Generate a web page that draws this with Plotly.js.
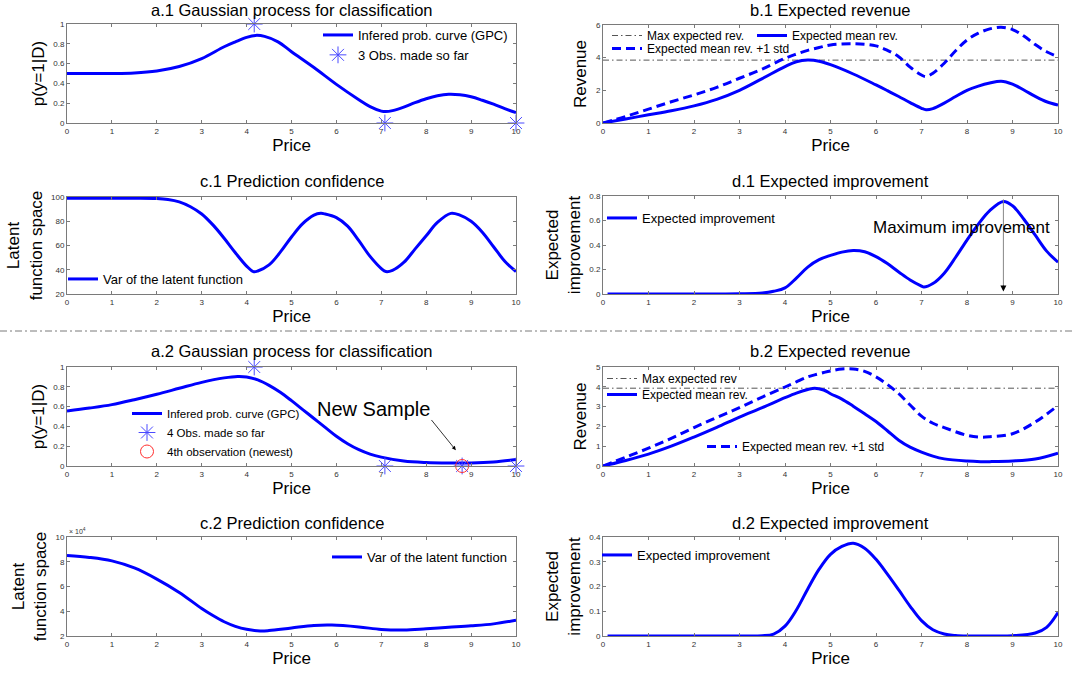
<!DOCTYPE html>
<html>
<head>
<meta charset="utf-8">
<script src="https://cdn.plot.ly/plotly-3.0.1.min.js"></script>
<style>html,body{margin:0;padding:0;background:#fff;}#chart{width:1073px;height:673px;}</style>
</head>
<body>
<div id="chart"></div>
<script>
// ---------- data ----------
// a.1 Gaussian process for classification (3 observations)
const priceA1 = [0, 0.5, 1, 1.5, 2, 2.5, 3, 3.5, 3.75, 4, 4.2, 4.4, 4.7, 5, 5.5, 6, 6.5, 6.75, 7, 7.1, 7.25, 7.5, 7.75, 8, 8.25, 8.5, 8.75, 9, 9.25, 9.5, 9.75, 10];
const probA1  = [0.5, 0.5, 0.5, 0.505, 0.525, 0.57, 0.65, 0.77, 0.82, 0.865, 0.885, 0.875, 0.82, 0.72, 0.56, 0.39, 0.235, 0.165, 0.12, 0.115, 0.125, 0.16, 0.205, 0.245, 0.275, 0.29, 0.285, 0.265, 0.23, 0.19, 0.145, 0.105];
const obsPriceA1 = [4.17, 7.08, 10];
const obsLabelA1 = [1, 0, 0];

// b.1 Expected revenue
const priceB1   = [0, 0.5, 1, 1.5, 2, 2.5, 3, 3.5, 4, 4.25, 4.5, 4.75, 5, 5.5, 6, 6.25, 6.5, 6.75, 7, 7.1, 7.25, 7.5, 7.75, 8, 8.25, 8.5, 8.75, 9, 9.25, 9.5, 9.75, 10];
const meanRevB1 = [0, 0.25, 0.5, 0.75, 1.05, 1.45, 2.0, 2.72, 3.45, 3.75, 3.85, 3.78, 3.57, 3.0, 2.33, 1.98, 1.62, 1.25, 0.9, 0.81, 0.88, 1.22, 1.62, 2.0, 2.26, 2.45, 2.56, 2.38, 2.02, 1.63, 1.3, 1.1];
const stdRevB1  = [0, 0.4, 0.85, 1.3, 1.72, 2.18, 2.74, 3.3, 3.96, 4.22, 4.45, 4.62, 4.78, 4.85, 4.72, 4.45, 4.06, 3.42, 2.94, 2.84, 3.05, 3.66, 4.42, 5.08, 5.5, 5.76, 5.86, 5.72, 5.32, 4.8, 4.36, 4.06];

// c.1 Prediction confidence
const priceC1 = [0, 0.5, 1, 1.5, 2, 2.25, 2.5, 2.75, 3, 3.25, 3.5, 3.75, 4, 4.15, 4.25, 4.5, 4.75, 5, 5.25, 5.5, 5.65, 5.75, 6, 6.25, 6.5, 6.75, 7, 7.1, 7.25, 7.5, 7.75, 8, 8.25, 8.55, 8.75, 9, 9.25, 9.5, 9.75, 10];
const varC1   = [99, 99, 99, 99, 98.8, 98, 96, 92, 86, 77, 66, 54, 43, 38.5, 39, 44, 54.5, 67, 78, 85, 86.5, 86, 83, 76, 64, 51, 41, 38.5, 39.5, 46, 57, 68, 79, 86.5, 85, 80, 71, 59, 47, 38.5];

// d.1 Expected improvement
const priceD1 = [0.1, 1, 2, 3, 3.5, 3.75, 4, 4.25, 4.5, 4.75, 5, 5.25, 5.5, 5.75, 6, 6.25, 6.5, 6.75, 7, 7.05, 7.25, 7.5, 7.75, 8, 8.25, 8.5, 8.8, 9, 9.25, 9.5, 9.75, 10];
const eiD1    = [0, 0, 0, 0.002, 0.008, 0.022, 0.05, 0.13, 0.22, 0.28, 0.315, 0.342, 0.355, 0.345, 0.305, 0.248, 0.18, 0.115, 0.065, 0.057, 0.085, 0.17, 0.3, 0.44, 0.57, 0.68, 0.755, 0.72, 0.61, 0.48, 0.35, 0.26];

// a.2 Gaussian process for classification (4 observations)
const priceA2 = [0, 0.5, 1, 1.5, 2, 2.5, 3, 3.5, 3.8, 4, 4.25, 4.5, 4.75, 5, 5.25, 5.5, 5.75, 6, 6.25, 6.5, 6.75, 7, 7.5, 8, 8.5, 9, 9.5, 10];
const probA2  = [0.555, 0.585, 0.62, 0.67, 0.725, 0.785, 0.845, 0.89, 0.905, 0.9, 0.87, 0.815, 0.745, 0.66, 0.57, 0.48, 0.39, 0.3, 0.225, 0.165, 0.12, 0.09, 0.05, 0.035, 0.03, 0.03, 0.04, 0.065];
const obsPriceA2 = [4.17, 7.08, 8.8, 10];
const obsLabelA2 = [1, 0, 0, 0];
const newPriceA2 = [8.8];
const newLabelA2 = [0];

// b.2 Expected revenue
const priceB2   = [0, 0.5, 1, 1.5, 2, 2.5, 3, 3.5, 4, 4.25, 4.5, 4.65, 4.85, 5, 5.25, 5.5, 5.75, 6, 6.25, 6.5, 6.75, 7, 7.25, 7.5, 8, 8.3, 8.5, 9, 9.5, 10];
const meanRevB2 = [0, 0.28, 0.6, 1.0, 1.46, 1.95, 2.47, 2.95, 3.45, 3.68, 3.86, 3.93, 3.84, 3.65, 3.38, 3.02, 2.64, 2.25, 1.78, 1.3, 0.95, 0.7, 0.5, 0.36, 0.25, 0.22, 0.22, 0.25, 0.35, 0.65];
const stdRevB2  = [0, 0.45, 0.9, 1.4, 1.94, 2.45, 2.95, 3.48, 3.99, 4.25, 4.5, 4.6, 4.72, 4.8, 4.9, 4.9, 4.78, 4.5, 4.12, 3.65, 3.08, 2.52, 2.16, 1.94, 1.55, 1.46, 1.48, 1.63, 2.22, 3.06];

// c.2 Prediction confidence (x 10^4)
const priceC2 = [0, 0.5, 1, 1.5, 2, 2.5, 3, 3.25, 3.5, 3.75, 4, 4.3, 4.5, 5, 5.5, 5.9, 6.5, 7, 7.5, 8, 8.5, 9, 9.5, 10];
const varC2   = [85000, 83500, 80700, 75000, 66000, 55200, 42200, 36500, 31500, 27800, 25400, 24100, 24400, 26500, 28500, 28800, 27300, 25300, 24800, 25800, 27000, 28200, 29800, 32700];

// d.2 Expected improvement
const priceD2 = [0.1, 1, 2, 3, 3.5, 3.75, 4, 4.25, 4.5, 4.75, 5, 5.25, 5.5, 5.75, 6, 6.25, 6.5, 6.75, 7, 7.25, 7.5, 7.75, 8, 8.5, 9, 9.5, 9.75, 10];
const eiD2    = [0, 0, 0, 0, 0.001, 0.008, 0.04, 0.105, 0.19, 0.27, 0.33, 0.362, 0.375, 0.355, 0.31, 0.25, 0.186, 0.12, 0.062, 0.025, 0.008, 0.002, 0, 0, 0.001, 0.012, 0.035, 0.095];

const priceTicks = [0, 1, 2, 3, 4, 5, 6, 7, 8, 9, 10];
const c2TickVals = [20000, 40000, 60000, 80000, 100000];
const c2TickText = ['2', '4', '6', '8', '10'];

// ---------- derived ----------
const maxRevB1 = Math.max(...meanRevB1);
const maxRevB2 = Math.max(...meanRevB2);
const maxEiD1 = Math.max(...eiD1);
const argMaxD1 = priceD1[eiD1.indexOf(maxEiD1)];

// ---------- layout helpers ----------
const W = 1073, H = 673;
const FONT = 'Liberation Sans, Arial, Helvetica, sans-serif';
const BLUE = '#0000ff';
const STAR = '#4a4aff';
const GRAY = '#7a7a7a';
function dx(l, r) { return [l / W, r / W]; }
function dy(t, b) { return [1 - b / H, 1 - t / H]; }
function px(v) { return v / W; }
function py(v) { return 1 - v / H; }

function axBase(extra) {
  return Object.assign({
    showline: true, linecolor: GRAY, linewidth: 1, mirror: 'ticks',
    ticks: 'inside', ticklen: 3, tickcolor: GRAY, tickwidth: 1,
    showgrid: false, zeroline: false, fixedrange: true,
    tickfont: {size: 8, color: '#333', family: FONT}
  }, extra);
}
function xAx(dom, anchor) {
  return axBase({domain: dom, anchor: anchor, range: [0, 10], tickvals: priceTicks,
    title: {text: 'Price', font: {size: 17, family: FONT, color: '#000'}, standoff: 3}});
}
function yAx(dom, anchor, range, dtick, title, extra) {
  return axBase(Object.assign({domain: dom, anchor: anchor, range: range, dtick: dtick, tick0: range[0],
    title: {text: title, font: {size: 17, family: FONT, color: '#000'}, standoff: 4}}, extra || {}));
}
function leg(xText, yCenter, size, off) {
  return {
    x: px(xText - 40), y: py(yCenter - off), xanchor: 'left', yanchor: 'top',
    bgcolor: 'rgba(0,0,0,0)', borderwidth: 0, itemwidth: 30,
    font: {size: size, family: FONT, color: '#000'}
  };
}
function curve(x, y, xa, ya, name, legend, extra) {
  return Object.assign({x: x, y: y, xaxis: xa, yaxis: ya, mode: 'lines', name: name, legend: legend,
    line: {color: BLUE, width: 3, shape: 'spline', smoothing: 1}, hoverinfo: 'skip'}, extra || {});
}
const dashStd = '9px,5px';
const dashMax = '6px,3px,1.5px,3px';

const data = [
  // a.1
  curve(priceA1, probA1, 'x', 'y', 'Infered prob. curve (GPC)', 'legend'),
  {x: obsPriceA1, y: obsLabelA1, xaxis: 'x', yaxis: 'y', mode: 'markers', name: '3 Obs. made so far', legend: 'legend',
   cliponaxis: false, marker: {symbol: 'asterisk-open', size: 14, color: STAR, line: {color: STAR, width: 1}}},
  // b.1
  {x: [priceB1[0], priceB1[priceB1.length - 1]], y: [maxRevB1, maxRevB1], xaxis: 'x2', yaxis: 'y2', mode: 'lines',
   name: 'Max expected rev.', legend: 'legend2', line: {color: '#555', width: 1, dash: dashMax}},
  curve(priceB1, meanRevB1, 'x2', 'y2', 'Expected mean rev.', 'legend3'),
  curve(priceB1, stdRevB1, 'x2', 'y2', 'Expected mean rev. +1 std', 'legend4', {line: {color: BLUE, width: 3, dash: dashStd, shape: 'spline', smoothing: 1}}),
  // c.1
  curve(priceC1, varC1, 'x3', 'y3', 'Var of the latent function', 'legend5'),
  // d.1
  curve(priceD1, eiD1, 'x4', 'y4', 'Expected improvement', 'legend6'),
  // a.2
  curve(priceA2, probA2, 'x5', 'y5', 'Infered prob. curve (GPC)', 'legend7'),
  {x: obsPriceA2, y: obsLabelA2, xaxis: 'x5', yaxis: 'y5', mode: 'markers', name: '4 Obs. made so far', legend: 'legend7',
   cliponaxis: false, marker: {symbol: 'asterisk-open', size: 14, color: STAR, line: {color: STAR, width: 1}}},
  {x: newPriceA2, y: newLabelA2, xaxis: 'x5', yaxis: 'y5', mode: 'markers', name: '4th observation (newest)', legend: 'legend7',
   cliponaxis: false, marker: {symbol: 'circle-open', size: 13, color: '#ff3030', line: {color: '#ff3030', width: 1}}},
  // b.2
  {x: [priceB2[0], priceB2[priceB2.length - 1]], y: [maxRevB2, maxRevB2], xaxis: 'x6', yaxis: 'y6', mode: 'lines',
   name: 'Max expected rev', legend: 'legend8', line: {color: '#555', width: 1, dash: dashMax}},
  curve(priceB2, meanRevB2, 'x6', 'y6', 'Expected mean rev.', 'legend12'),
  curve(priceB2, stdRevB2, 'x6', 'y6', 'Expected mean rev. +1 std', 'legend9', {line: {color: BLUE, width: 3, dash: dashStd, shape: 'spline', smoothing: 1}}),
  // c.2
  curve(priceC2, varC2, 'x7', 'y7', 'Var of the latent function', 'legend10'),
  // d.2
  curve(priceD2, eiD2, 'x8', 'y8', 'Expected improvement', 'legend11')
];

const L = [67, 516], R = [603, 1058];
const layout = {
  width: W, height: H, margin: {l: 0, r: 0, t: 0, b: 0},
  paper_bgcolor: '#fff', plot_bgcolor: '#fff',
  font: {family: FONT, color: '#000'},
  xaxis:  xAx(dx(L[0], L[1]), 'y'),
  yaxis:  yAx(dy(24, 123), 'x', [0, 1], 0.2, 'p(y=1|D)'),
  xaxis2: xAx(dx(R[0], R[1]), 'y2'),
  yaxis2: yAx(dy(25, 123), 'x2', [0, 6], 2, 'Revenue'),
  xaxis3: xAx(dx(L[0], L[1]), 'y3'),
  yaxis3: yAx(dy(197, 294), 'x3', [20, 100], 20, 'Latent<br>function space'),
  xaxis4: xAx(dx(R[0], R[1]), 'y4'),
  yaxis4: yAx(dy(196, 294), 'x4', [0, 0.8], 0.2, 'Expected<br>improvement'),
  xaxis5: xAx(dx(L[0], L[1]), 'y5'),
  yaxis5: yAx(dy(367, 466), 'x5', [0, 1], 0.2, 'p(y=1|D)'),
  xaxis6: xAx(dx(R[0], R[1]), 'y6'),
  yaxis6: yAx(dy(367, 466), 'x6', [0, 5], 1, 'Revenue'),
  xaxis7: xAx(dx(L[0], L[1]), 'y7'),
  yaxis7: yAx(dy(537, 636), 'x7', [20000, 100000], null, 'Latent<br>function space', {tickvals: c2TickVals, ticktext: c2TickText}),
  xaxis8: xAx(dx(R[0], R[1]), 'y8'),
  yaxis8: yAx(dy(537, 636), 'x8', [0, 0.4], 0.1, 'Expected<br>improvement'),
  legend:   leg(358, 37, 13, 17),
  legend2:  leg(647, 35, 12, 14),
  legend3:  leg(792, 35, 12, 14),
  legend4:  leg(647, 48, 12, 14),
  legend5:  leg(103, 280, 13, 16),
  legend6:  leg(642, 218, 13, 15),
  legend7:  leg(167, 414, 11.5, 15),
  legend8:  leg(642, 379, 12, 15),
  legend12: leg(642, 395, 12, 15),
  legend9:  leg(742, 447, 12, 15),
  legend10: leg(367, 558, 13, 16),
  legend11: leg(637, 555, 13, 15),
  showlegend: true,
  shapes: [
    {type: 'line', xref: 'paper', yref: 'paper', x0: 0, x1: 1, y0: py(331), y1: py(331),
     line: {color: GRAY, width: 1, dash: '7px,3px,2px,3px'}}
  ],
  annotations: []
};

const titles = [
  ['a.1 Gaussian process for classification', (L[0] + L[1]) / 2, 10],
  ['b.1 Expected revenue', (R[0] + R[1]) / 2, 10],
  ['c.1 Prediction confidence', (L[0] + L[1]) / 2, 181],
  ['d.1 Expected improvement', (R[0] + R[1]) / 2, 181],
  ['a.2 Gaussian process for classification', (L[0] + L[1]) / 2, 351],
  ['b.2 Expected revenue', (R[0] + R[1]) / 2, 351],
  ['c.2 Prediction confidence', (L[0] + L[1]) / 2, 523],
  ['d.2 Expected improvement', (R[0] + R[1]) / 2, 523]
];
titles.forEach(t => layout.annotations.push({text: t[0], xref: 'paper', yref: 'paper', x: px(t[1]), y: py(t[2]),
  xanchor: 'center', yanchor: 'middle', showarrow: false, font: {size: 16.5, family: FONT, color: '#000'}}));

// x 10^4 exponent label for c.2
layout.annotations.push({text: '× 10<sup>4</sup>', xref: 'paper', yref: 'paper', x: px(67), y: py(531),
  xanchor: 'left', yanchor: 'middle', showarrow: false, font: {size: 7, family: FONT, color: '#333'}});

// d.1 maximum improvement arrow
layout.annotations.push({text: '', xref: 'x4', yref: 'y4', x: argMaxD1, y: 0.06, axref: 'x4', ayref: 'y4', ax: argMaxD1, ay: 0.785,
  showarrow: true, arrowhead: 0, arrowwidth: 1, arrowcolor: '#888'});
layout.annotations.push({text: '', xref: 'x4', yref: 'y4', x: argMaxD1, y: 0.02, axref: 'x4', ayref: 'y4', ax: argMaxD1, ay: 0.08,
  showarrow: true, arrowhead: 2, arrowsize: 1.2, arrowwidth: 1, arrowcolor: '#000'});
layout.annotations.push({text: 'Maximum improvement', xref: 'x4', yref: 'y4', x: 7.87, y: 0.54,
  xanchor: 'center', yanchor: 'middle', showarrow: false, font: {size: 17, family: FONT, color: '#000'}});

// a.2 new sample
layout.annotations.push({text: 'New Sample', xref: 'x5', yref: 'y5', x: 6.83, y: 0.58,
  xanchor: 'center', yanchor: 'middle', showarrow: false, font: {size: 20, family: FONT, color: '#000'}});
layout.annotations.push({text: '', xref: 'x5', yref: 'y5', x: 8.66, y: 0.16, axref: 'x5', ayref: 'y5', ax: 8.09, ay: 0.48,
  showarrow: true, arrowhead: 2, arrowsize: 1, arrowwidth: 0.8, arrowcolor: '#000'});

Plotly.newPlot('chart', data, layout, {staticPlot: true, displayModeBar: false});
</script>
</body>
</html>
